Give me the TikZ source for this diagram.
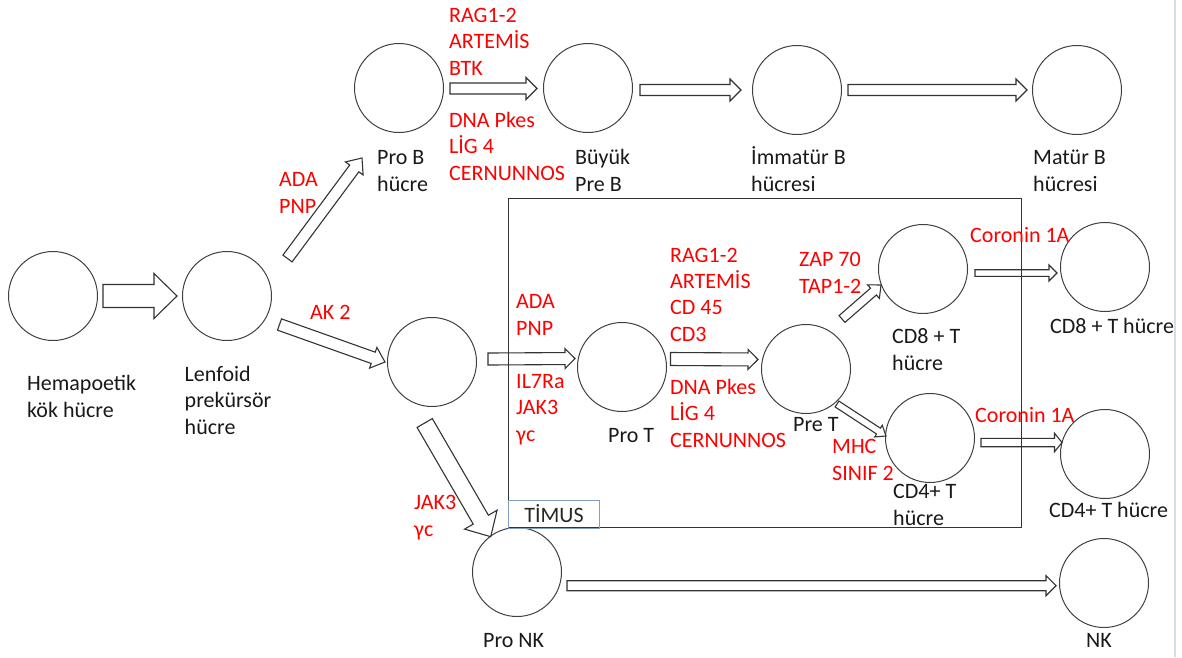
\documentclass[tikz,border=0pt]{standalone}
\usepackage{fontspec}
\setmainfont{Carlito}
\usepackage{xcolor}
\usepackage{tikz}
\usetikzlibrary{calc}
\definecolor{timusblue}{RGB}{132, 158, 190}
\definecolor{edgegray}{RGB}{220, 220, 220}

\tikzset{
    shaftw/.store in=\shaftw, headw/.store in=\headw, headl/.store in=\headl,
    shaftw=6, headw=11, headl=12,
    ar/.style={shift={(\p1)}, rotate=\n1},
    blockarrow/.style={draw=black!80, line width=1.1, line join=miter, to path={
        let \p1=(\tikztostart), \p2=(\tikztotarget),
            \n1={atan2(\y2-\y1,\x2-\x1)}, \n2={veclen(\x2-\x1,\y2-\y1)} in
        ([ar]0pt,{\shaftw*1pt}) -- ([ar]{\n2*1pt-\headl*1pt},{\shaftw*1pt})
        -- ([ar]{\n2*1pt-\headl*1pt},{\headw*1pt}) -- ([ar]{\n2*1pt},0pt)
        -- ([ar]{\n2*1pt-\headl*1pt},{-\headw*1pt}) -- ([ar]{\n2*1pt-\headl*1pt},{-\shaftw*1pt})
        -- ([ar]0pt,{-\shaftw*1pt}) -- cycle}},
}

\begin{document}
\begin{tikzpicture}[x=1pt, y=-1pt,
    font=\fontsize{22}{26.3}\selectfont,
    cell/.style={circle, draw=black!75, line width=1, minimum size=89, inner sep=0},
    lbl/.style={anchor=base west, align=left, inner sep=0, text=black!90},
    gene/.style={lbl, text=red},
]
    \useasboundingbox (0,0) rectangle (1182,657);
    \draw[edgegray, line width=2] (1175,0) -- (1175,657);

    % hücreler
    \node[cell] (hema) at (53,296) {};
    \node[cell] (lenf) at (227,296) {};
    \node[cell] (proB) at (399,88) {};
    \node[cell] (preB) at (588,88) {};
    \node[cell] (imm) at (797,90) {};
    \node[cell] (mat) at (1077,90) {};
    \node[cell] (mid) at (432,362) {};
    \node[cell] (proT) at (622,367) {};
    \node[cell] (preT) at (806,369) {};
    \node[cell] (cd8) at (923,269) {};
    \node[cell] (cd4) at (930,438) {};
    \node[cell] (cd8o) at (1105,267) {};
    \node[cell] (cd4o) at (1105,454) {};
    \node[cell] (proNK) at (517,572) {};
    \node[cell] (nk) at (1104,583) {};

    % timus kutusu
    \node[draw=black!80, line width=1.1, anchor=north west, inner sep=0,
          minimum width=513, minimum height=329] (timus) at (508,198) {};
    \node[draw=timusblue, line width=1.1, anchor=north west, inner sep=0,
          minimum width=91, minimum height=28, text=black!85] (timusL) at (508,499.5) {TİMUS};

    % etiketler (son satırın taban çizgisi)
    \node[lbl] (hemaL) at (27,417) {Hemapoetik\\kök hücre};
    \node[lbl] (lenfL) at (184.5,434) {Lenfoid\\prekürsör\\hücre};
    \node[lbl] (proBL) at (377,191) {Pro B\\hücre};
    \node[lbl] (preBL) at (575,191) {Büyük\\Pre B};
    \node[lbl] (immL) at (751,191) {İmmatür B\\hücresi};
    \node[lbl] (matL) at (1033,191) {Matür B\\hücresi};
    \node[lbl] (proTL) at (608,442) {Pro T};
    \node[lbl] (preTL) at (793,431) {Pre T};
    \node[lbl] (cd8L) at (892,370) {CD8 + T\\hücre};
    \node[lbl] (cd4L) at (893,525) {CD4+ T\\hücre};
    \node[lbl] (cd8oL) at (1050,333) {CD8 + T hücre};
    \node[lbl] (cd4oL) at (1049,517) {CD4+ T hücre};
    \node[lbl] (proNKL) at (483,647) {Pro NK};
    \node[lbl] (nkL) at (1086,647) {NK};

    % genler
    \node[gene] (adaB) at (279,213) {ADA\\PNP};
    \node[gene] (ak2) at (310,319) {AK 2};
    \node[gene] (bGenesA) at (449,75) {RAG1-2\\ARTEMİS\\BTK};
    \node[gene] (bGenesB) at (449,180) {DNA Pkes\\LİG 4\\CERNUNNOS};
    \node[gene] (adaT) at (516,335) {ADA\\PNP};
    \node[gene] (il7) at (516,441) {IL7Ra\\JAK3\\γc};
    \node[gene] (tGenesA) at (670,341) {RAG1-2\\ARTEMİS\\CD 45\\CD3};
    \node[gene] (tGenesB) at (670,447) {DNA Pkes\\LİG 4\\CERNUNNOS};
    \node[gene] (zap) at (799,293) {ZAP 70\\TAP1-2};
    \node[gene] (mhc) at (832,480) {MHC\\SINIF 2};
    \node[gene] (cor8) at (970,242) {Coronin 1A};
    \node[gene] (cor4) at (975,422) {Coronin 1A};
    \node[gene] (jakNK) at (414,536) {JAK3\\γc};

    % oklar
    \draw[blockarrow, shaftw=11.5, headw=22.5, headl=23] ([shift={(50,0)}]hema.center) to ([shift={(-50,0)}]lenf.center);
    \draw[blockarrow, shaftw=5.7, headw=11, headl=13] ([shift={(60.5,-37.5)}]lenf.center) to ([shift={(-37,70)}]proB.center);
    \draw[blockarrow, shaftw=6, headw=11, headl=12.5] ([shift={(52.5,28.5)}]lenf.center) to ([shift={(-47,0)}]mid.center);
    \draw[blockarrow, shaftw=8.8, headw=18.8, headl=19.7] ([shift={(-7.3,61)}]mid.center) to ([shift={(-26.3,-35.3)}]proNK.center);
    \draw[blockarrow, shaftw=5.5, headw=11, headl=11] ([shift={(51,0.5)}]proB.center) to ([shift={(-51,0.5)}]preB.center);
    \draw[blockarrow, shaftw=5.5, headw=11, headl=11] ([shift={(52,2)}]preB.center) to ([shift={(-56,0)}]imm.center);
    \draw[blockarrow, shaftw=5.5, headw=11, headl=11] ([shift={(51,0)}]imm.center) to ([shift={(-50,0)}]mat.center);
    \draw[blockarrow, shaftw=6, headw=10, headl=10] ([shift={(56,-3)}]mid.center) to ([shift={(-47,-8.5)}]proT.center);
    \draw[blockarrow, shaftw=6.5, headw=10, headl=10] ([shift={(48.5,-8)}]proT.center) to ([shift={(-48,-9.5)}]preT.center);
    \draw[blockarrow, shaftw=4.5, headw=9, headl=10] ([shift={(36,-50)}]preT.center) to ([shift={(-42,16)}]cd8.center);
    \draw[blockarrow, shaftw=3.5, headw=7, headl=9] ([shift={(31,35)}]preT.center) to ([shift={(-44,-2)}]cd4.center);
    \draw[blockarrow, shaftw=3.3, headw=8, headl=8] ([shift={(52,4)}]cd8.center) to ([shift={(-48,6)}]cd8o.center);
    \draw[blockarrow, shaftw=4.2, headw=9.3, headl=7.5] ([shift={(51,4.5)}]cd4.center) to ([shift={(-43,-11.5)}]cd4o.center);
    \draw[blockarrow, shaftw=5, headw=10, headl=10] ([shift={(50,13.7)}]proNK.center) to ([shift={(-48,2.7)}]nk.center);
\end{tikzpicture}
\end{document}
